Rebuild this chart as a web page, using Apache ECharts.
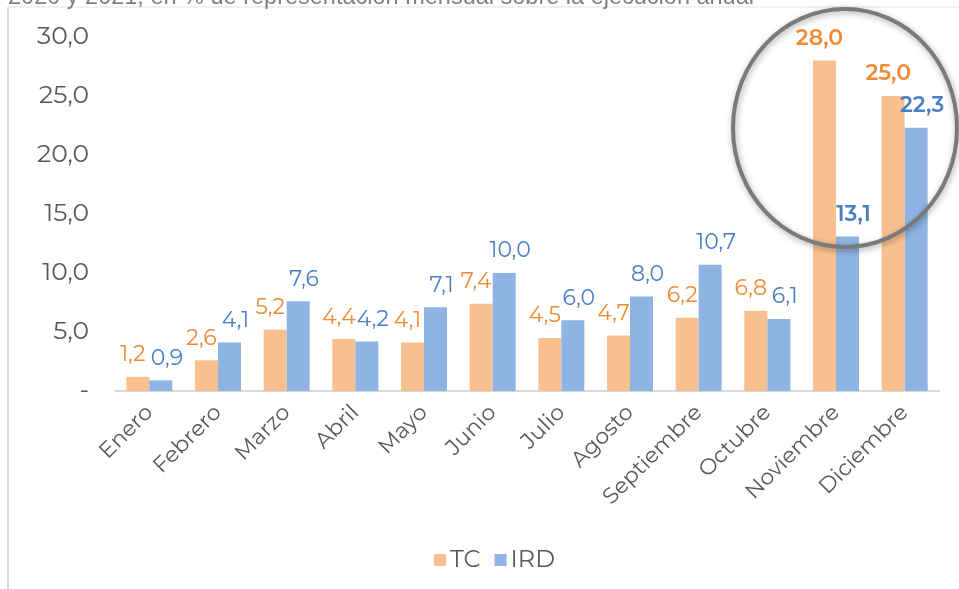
<!DOCTYPE html>
<html>
<head>
<meta charset="utf-8">
<script src="https://cdn.jsdelivr.net/npm/echarts@6/dist/echarts.min.js"></script>
<style>
  html, body { margin: 0; padding: 0; background: #fff; }
  #chart { width: 959px; height: 589px; }
</style>
</head>
<body>
<div id="chart"></div>
<script>
const months = ['Enero', 'Febrero', 'Marzo', 'Abril', 'Mayo', 'Junio', 'Julio', 'Agosto', 'Septiembre', 'Octubre', 'Noviembre', 'Diciembre']
const tcValues = [1.2, 2.6, 5.2, 4.4, 4.1, 7.4, 4.5, 4.7, 6.2, 6.8, 28.0, 25.0]
const irdValues = [0.9, 4.1, 7.6, 4.2, 7.1, 10.0, 6.0, 8.0, 10.7, 6.1, 13.1, 22.3]
const yTicks = [0, 5, 10, 15, 20, 25, 30]

const labelFont = 'Montserrat, "DejaVu Sans", sans-serif'

// valores de noviembre y diciembre van resaltados
function withBold(values) {
  return values.map(function (v, i) {
    if (i >= 10) {
      return { value: v, label: { fontWeight: 600 } }
    }
    return v
  })
}

function fmt(v) {
  return v === 0 ? '-' : v.toFixed(1).replace('.', ',')
}

const chart = echarts.init(document.getElementById('chart'))
chart.setOption({
  animation: false,
  grid: {
    top: 37,
    left: 115,
    right: 20,
    bottom: 198
  },
  legend: {
    bottom: 12,
    left: 429,
    itemWidth: 12,
    itemHeight: 12,
    itemGap: 14,
    icon: 'rect',
    textStyle: { fontSize: 24, color: '#595959', fontFamily: labelFont, padding: [0, 0, 0, -1] },
    data: ['TC', 'IRD']
  },
  xAxis: {
    type: 'category',
    data: months,
    axisLine: { lineStyle: { color: '#d9d9d9', width: 2 } },
    axisTick: { show: false },
    axisLabel: {
      rotate: 45,
      interval: 0,
      fontSize: 22,
      color: '#595959',
      fontFamily: labelFont,
      margin: 18
    }
  },
  yAxis: {
    type: 'value',
    min: yTicks[0],
    max: yTicks[yTicks.length - 1],
    interval: 5,
    splitLine: { show: false },
    axisLine: { show: false },
    axisTick: { show: false },
    axisLabel: {
      fontSize: 25,
      color: '#595959',
      fontFamily: labelFont,
      margin: 26,
      formatter: fmt
    }
  },
  series: [{
    name: 'TC',
    type: 'bar',
    data: withBold(tcValues),
    barGap: 0,
    barCategoryGap: '33%',
    itemStyle: { color: '#f9c08f' },
    label: {
      show: true,
      position: 'top',
      distance: 11,
      offset: [-5, 0],
      fontSize: 22,
      color: '#f08a35',
      fontFamily: labelFont,
      formatter: function (p) { return fmt(p.value) }
    }
  }, {
    name: 'IRD',
    type: 'bar',
    data: withBold(irdValues),
    itemStyle: { color: '#8eb4e3' },
    label: {
      show: true,
      position: 'top',
      distance: 11,
      offset: [6, 0],
      fontSize: 22,
      color: '#4a7ec2',
      fontFamily: labelFont,
      formatter: function (p) { return fmt(p.value) }
    }
  }],
  graphic: [{
    type: 'line',
    shape: { x1: 8, y1: 7, x2: 8, y2: 589 },
    style: { stroke: '#d9d9d9', lineWidth: 2 },
    silent: true
  }, {
    type: 'line',
    shape: { x1: 8, y1: 7, x2: 959, y2: 7 },
    style: { stroke: '#e3e3e3', lineWidth: 1 },
    silent: true
  }, {
    type: 'text',
    left: 8,
    top: -14,
    style: {
      text: '2020 y 2021, en % de representación mensual sobre la ejecución anual',
      fontSize: 23.5,
      fill: '#7f7f7f',
      fontFamily: '"Liberation Sans Narrow", "Liberation Sans", sans-serif'
    },
    silent: true
  }, {
    type: 'ellipse',
    z: 100,
    shape: { cx: 845, cy: 128, rx: 112, ry: 119 },
    style: {
      fill: 'none',
      stroke: '#7a7a7a',
      lineWidth: 4,
      shadowBlur: 6,
      shadowColor: 'rgba(0,0,0,0.35)',
      shadowOffsetX: 1,
      shadowOffsetY: 2
    },
    silent: true
  }]
})
window.onresize = function () {
  chart.resize()
}
</script>
</body>
</html>
